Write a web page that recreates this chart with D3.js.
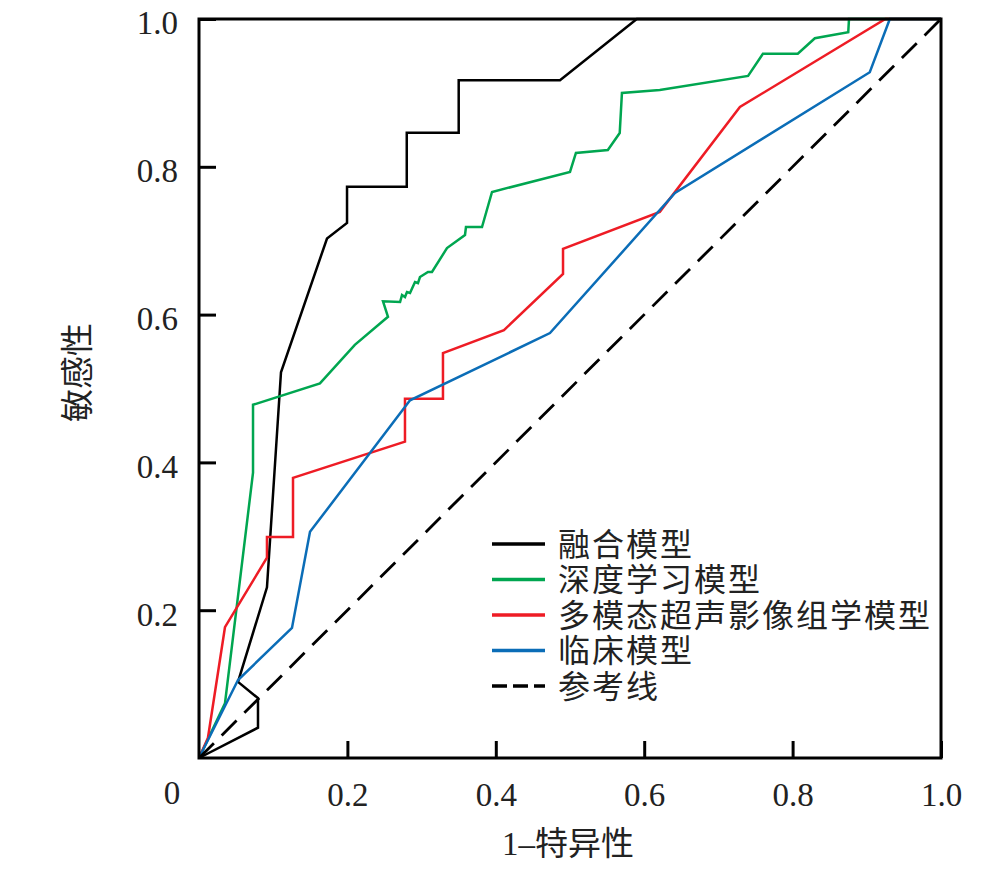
<!DOCTYPE html>
<html>
<head>
<meta charset="utf-8">
<script src="https://cdn.jsdelivr.net/npm/d3@7"></script>
<style>
  body { margin: 0; background: #fff; }
  svg text { fill: #222; }
</style>
</head>
<body>
<div id="roc"></div>
<script>
// ROC curves, values (FPR, TPR)
var fusionFpr = [0, 0.0795, 0.0795, 0.0526, 0.0916, 0.1105, 0.1725, 0.1995, 0.1995, 0.280, 0.280, 0.350, 0.350, 0.4865, 0.590, 1];
var fusionTpr = [0, 0.041, 0.081, 0.103, 0.231, 0.522, 0.703, 0.724, 0.773, 0.773, 0.846, 0.846, 0.917, 0.917, 1, 1];

var deepFpr = [0, 0.035, 0.0728, 0.0728, 0.163, 0.210, 0.2547, 0.248, 0.271, 0.2736, 0.2776, 0.2803, 0.2844, 0.2911, 0.2951, 0.2978, 0.3086, 0.314, 0.3342, 0.3585, 0.3598, 0.3814, 0.3949, 0.500, 0.508, 0.551, 0.567, 0.570, 0.621, 0.740, 0.760, 0.807, 0.830, 0.875, 0.876, 1];
var deepTpr = [0, 0.074, 0.386, 0.478, 0.507, 0.559, 0.597, 0.618, 0.617, 0.6265, 0.6238, 0.6306, 0.6292, 0.6441, 0.6427, 0.6509, 0.6576, 0.6576, 0.690, 0.7077, 0.7185, 0.7185, 0.766, 0.793, 0.8187, 0.8227, 0.8457, 0.900, 0.904, 0.923, 0.953, 0.953, 0.974, 0.982, 1, 1];

var radioFpr = [0, 0.012, 0.035, 0.0916, 0.0916, 0.1267, 0.1267, 0.2776, 0.2776, 0.3288, 0.3288, 0.411, 0.4906, 0.4906, 0.621, 0.729, 0.925, 1];
var radioTpr = [0, 0.027, 0.177, 0.271, 0.299, 0.299, 0.379, 0.428, 0.486, 0.486, 0.548, 0.579, 0.655, 0.689, 0.739, 0.881, 1, 1];

var clinFpr = [0, 0.0526, 0.1253, 0.1496, 0.2844, 0.473, 0.6415, 0.904, 0.931, 1];
var clinTpr = [0, 0.1055, 0.176, 0.306, 0.484, 0.575, 0.7645, 0.928, 1, 1];

var refFpr = [0, 1];
var refTpr = [0, 1];

var seriesNames = ["融合模型", "深度学习模型", "多模态超声影像组学模型", "临床模型", "参考线"];
var seriesColors = ["#000000", "#00a650", "#ee1c25", "#0b6db7", "#000000"];
var xTicks = [0.2, 0.4, 0.6, 0.8, 1.0];
var yTicks = [0.2, 0.4, 0.6, 0.8, 1.0];

var margin = {top: 19, right: 51, bottom: 118, left: 199};
var width = 992 - margin.left - margin.right;   // 742
var height = 876 - margin.top - margin.bottom;  // 739

var svg = d3.select("#roc")
  .append("svg")
  .attr("width", 992)
  .attr("height", 876)
  .append("g")
  .attr("transform", "translate(" + margin.left + "," + margin.top + ")");

var x = d3.scaleLinear().domain([0, 1]).range([0, width]);
var y = d3.scaleLinear().domain([0, 1]).range([height, 0]);

var serif = "'Liberation Serif', 'Times New Roman', serif";
var cjk = "'Noto Sans CJK SC', sans-serif";

// curves
var series = [
  {fpr: fusionFpr, tpr: fusionTpr},
  {fpr: deepFpr, tpr: deepTpr},
  {fpr: radioFpr, tpr: radioTpr},
  {fpr: clinFpr, tpr: clinTpr},
  {fpr: refFpr, tpr: refTpr}
];

var line = d3.line()
  .x(function(d) { return x(d[0]); })
  .y(function(d) { return y(d[1]); });

series.forEach(function(s, i) {
  var pts = s.fpr.map(function(f, j) { return [f, s.tpr[j]]; });
  svg.append("path")
    .datum(pts)
    .attr("d", line)
    .attr("fill", "none")
    .attr("stroke", seriesColors[i])
    .attr("stroke-width", i == 4 ? 2.8 : 2.5)
    .attr("stroke-linejoin", "miter")
    .attr("stroke-dasharray", i == 4 ? "21,11" : null);
});

// axes with inward ticks
var xAxis = svg.append("g")
  .attr("transform", "translate(0," + height + ")")
  .call(d3.axisBottom(x).tickValues(xTicks).tickSize(-17).tickSizeOuter(0)
    .tickFormat(d3.format(".1f")));
var yAxis = svg.append("g")
  .call(d3.axisLeft(y).tickValues(yTicks).tickSize(-17).tickSizeOuter(0)
    .tickFormat(d3.format(".1f")));

[xAxis, yAxis].forEach(function(a) {
  a.select(".domain").remove();
  a.selectAll("line").attr("stroke", "#000").attr("stroke-width", 3);
  a.selectAll("text")
    .style("font-family", serif)
    .style("font-size", "33px")
    .attr("fill", "#222");
});
xAxis.selectAll("text").attr("y", 25).attr("dy", "0.71em");
yAxis.selectAll("text").attr("x", -21).attr("dy", "0.45em");
// shared zero at the corner
svg.append("text")
  .attr("x", -27)
  .attr("y", height + 46)
  .attr("text-anchor", "middle")
  .style("font-family", serif)
  .style("font-size", "33px")
  .text("0");

// frame
svg.append("rect")
  .attr("width", width)
  .attr("height", height)
  .attr("fill", "none")
  .attr("stroke", "#000")
  .attr("stroke-width", 3);

// axis titles
var xTitle = svg.append("text")
  .attr("x", width / 2 - 2)
  .attr("y", height + 97)
  .attr("text-anchor", "middle")
  .style("font-size", "33px");
xTitle.append("tspan").style("font-family", serif).text("1–");
xTitle.append("tspan").style("font-family", cjk).text("特异性");

svg.append("text")
  .attr("transform", "translate(-110," + (height / 2 - 16) + ") rotate(-90)")
  .attr("text-anchor", "middle")
  .style("font-family", cjk)
  .style("font-size", "33px")
  .text("敏感性");

// legend: sample lines + one multi-line text block
var rowH = 35.5;
var legend = svg.append("g")
  .attr("transform", "translate(293,525)");
seriesNames.forEach(function(name, i) {
  legend.append("line")
    .attr("x1", 0).attr("x2", 53)
    .attr("y1", i * rowH).attr("y2", i * rowH)
    .attr("stroke", seriesColors[i])
    .attr("stroke-width", 3.5)
    .attr("stroke-dasharray", i == 4 ? "15,6" : null);
});
var legendText = legend.append("text")
  .style("font-family", cjk)
  .style("font-size", "32px")
  .style("letter-spacing", "2px")
  .attr("fill", "#333");
seriesNames.forEach(function(name, i) {
  legendText.append("tspan")
    .attr("x", 66)
    .attr("y", i * rowH)
    .attr("dy", "0.36em")
    .text(name);
});
</script>
</body>
</html>
